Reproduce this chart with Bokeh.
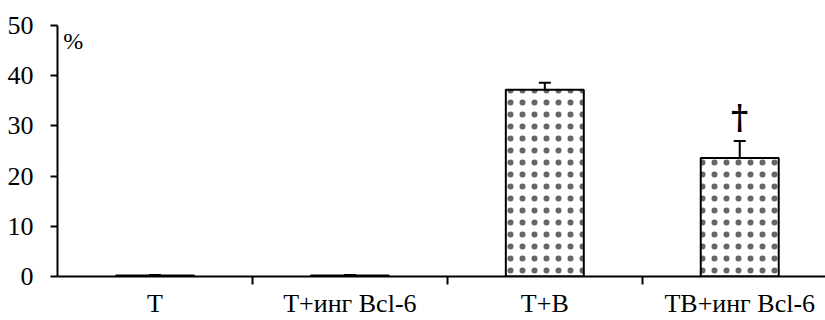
from bokeh.plotting import figure
from bokeh.models import ColumnDataSource, Whisker, FixedTicker, Range1d, Label, TeeHead
from bokeh.core.properties import value
from bokeh.embed import file_html
from bokeh.resources import INLINE

categories = ["T", "T+инг Bcl-6", "T+B", "TB+инг Bcl-6"]
values = [0.2, 0.2, 37.2, 23.6]
errors = [0.1, 0.1, 1.4, 3.4]
marks = ["", "", "", "†"]
y_ticks = [0, 10, 20, 30, 40, 50]

FONT = "Liberation Serif"
xs = [i + 0.5 for i in range(len(categories))]
src = ColumnDataSource(dict(
    x=xs, top=values,
    upper=[v + e for v, e in zip(values, errors)],
    lower=[v - e for v, e in zip(values, errors)],
    mark=marks,
    mark_y=[v + e + 0.8 for v, e in zip(values, errors)],
))

p = figure(width=825, height=320, output_backend="svg", toolbar_location=None,
           x_range=Range1d(0, 3.94), y_range=Range1d(0, 50),
           min_border_left=57, min_border_right=0, min_border_top=25, min_border_bottom=44)
p.outline_line_color = None
p.grid.visible = False
p.background_fill_color = "white"
p.border_fill_color = "white"

p.vbar(x="x", top="top", width=0.4, bottom=0, source=src,
       fill_color="white", line_color="black", line_width=2,
       hatch_pattern="dot", hatch_color="black", hatch_scale=12,
       hatch_weight=0.1, hatch_alpha=0.6)

w = Whisker(base="x", upper="upper", lower="lower", source=src,
            line_color="black", line_width=2,
            upper_head=TeeHead(size=12, line_width=2, line_color="black"),
            lower_head=TeeHead(size=12, line_width=2, line_color="black"))
p.add_layout(w)

p.text(x="x", y="mark_y", text="mark", source=src, text_align="center",
       text_baseline="bottom", text_font=value("DejaVu Serif"), text_font_size="33px",
       text_font_style="bold", text_color="black")

# y axis
ya = p.yaxis[0]
ya.ticker = FixedTicker(ticks=y_ticks)
ya.minor_tick_line_color = None
ya.major_tick_in = 0
ya.major_tick_out = 7
ya.axis_line_width = 2
ya.major_tick_line_width = 2
ya.major_label_text_font = FONT
ya.major_label_text_font_size = "26px"
ya.major_label_text_color = "black"
ya.major_label_standoff = 17

# x axis
xa = p.xaxis[0]
xa.ticker = FixedTicker(ticks=xs, minor_ticks=[1, 2, 3])
xa.major_label_overrides = {x: c for x, c in zip(xs, categories)}
xa.major_tick_line_color = None
xa.major_tick_in = 0
xa.major_tick_out = 0
xa.minor_tick_in = 0
xa.minor_tick_out = 8
xa.minor_tick_line_width = 2
xa.axis_line_width = 2
xa.major_label_text_font = FONT
xa.major_label_text_font_size = "26px"
xa.major_label_text_color = "black"
xa.major_label_standoff = 4

p.add_layout(Label(x=0.03, y=49.6, text="%", text_font=FONT, text_font_size="24px",
                   text_baseline="top", text_color="black"))

open("out.html", "w").write(file_html(p, INLINE))
